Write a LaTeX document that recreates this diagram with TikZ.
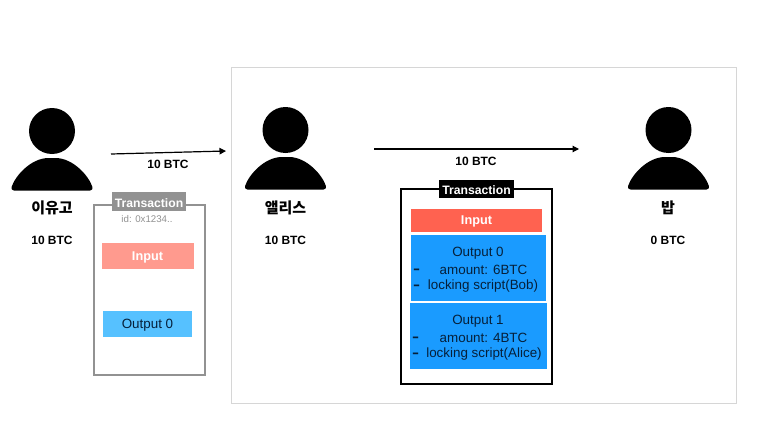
\documentclass[tikz,border=0pt]{standalone}
\usepackage{fontspec}
\setmainfont{Liberation Sans}
\newfontfamily\krfont{Noto Sans CJK KR}
\definecolor{framegray}{HTML}{D6D6D6}
\definecolor{txgray}{HTML}{929292}
\definecolor{inlight}{HTML}{FF9A8E}
\definecolor{outlight}{HTML}{56C1FF}
\definecolor{instrong}{HTML}{FF6250}
\definecolor{outstrong}{HTML}{1A9BFF}
\definecolor{darktext}{HTML}{06203A}
\usetikzlibrary{arrows.meta}
\tikzset{
  x=1pt,y=-1pt,
  lbl/.style={inner sep=0pt,font=\bfseries\fontsize{12}{14}\selectfont},
  namelbl/.style={inner sep=0pt,font=\krfont\bfseries\fontsize{15}{17}\selectfont},
  boxtxt/.style={inner sep=0pt,yshift=-1pt,text=darktext,font=\fontsize{13.4}{15}\selectfont},
  dashtxt/.style={inner sep=0pt,yshift=-2pt,text=darktext,font=\bfseries\fontsize{14}{15}\selectfont},
  titletxt/.style={inner sep=0pt,yshift=-0.8pt,text=white,font=\bfseries\fontsize{12.2}{14}\selectfont},
  btntxt/.style={inner sep=0pt,yshift=-1pt,text=white,font=\bfseries\fontsize{12.7}{14}\selectfont},
  flow/.style={-{Triangle[length=6.5pt,width=6.5pt]},line width=1.2pt,black},
}
\newcommand{\personicon}[2]{%
  \fill[black] (#1,#2) circle (23);
  \fill[black,rounded corners=3.5pt] (#1-41.5,#2+59.5)
     .. controls (#1-37,#2+45) and (#1-21,#2+27) .. (#1,#2+27)
     .. controls (#1+21,#2+27) and (#1+37,#2+45) .. (#1+41.5,#2+59.5) -- cycle;
}
\newcommand{\widedash}{\scalebox{1.5}[1]{-}}
\begin{document}
\begin{tikzpicture}
\useasboundingbox (0,0) rectangle (765,436);
\fill[white] (0,0) rectangle (765,436);
\draw[framegray,line width=0.9pt] (231,67) rectangle (736,403);

\personicon{52}{131}
\personicon{285.5}{130}
\personicon{668.5}{130}

\node[namelbl] (yname) at (52,208) {이유고};
\node[lbl] (ybtc) at (52,240) {10 BTC};
\node[namelbl] (aname) at (285.5,208) {앨리스};
\node[lbl] (abtc) at (285.5,240) {10 BTC};
\node[namelbl] (bname) at (668,208) {밥};
\node[lbl] (bbtc) at (668,240) {0 BTC};

\coordinate (a1s) at (111,154);
\coordinate (a1e) at (226,151);
\draw[flow] (a1s) -- (a1e);
\node[lbl] (a1l) at (168,164) {10 BTC};
\coordinate (a2s) at (374,149);
\coordinate (a2e) at (579,149);
\draw[flow] (a2s) -- (a2e);
\node[lbl] (a2l) at (476,161) {10 BTC};

% left transaction
\draw[txgray,line width=1.5pt] (94,205) rectangle (205,375);
\fill[txgray] (112,192) rectangle (186,211);
\node[titletxt] (t1) at (149,202) {Transaction};
\node[inner sep=0pt,text=txgray,font=\fontsize{9.7}{11}\selectfont] (tid) at (147,219) {id: 0x1234..};
\fill[inlight] (102,243) rectangle (194,269);
\node[btntxt] (i1) at (147.5,256.5) {Input};
\fill[outlight] (103,311) rectangle (192,337);
\node[boxtxt] (o1) at (147.5,324.5) {Output 0};

% right transaction
\draw[black,line width=1.5pt] (401,189) rectangle (552,384);
\fill[black] (439,180) rectangle (514,198);
\node[titletxt] (t2) at (476.5,189.5) {Transaction};
\fill[instrong] (411,209) rectangle (542,232);
\node[btntxt] (i2) at (476.5,220.5) {Input};
\fill[outstrong] (411,235) rectangle (546,301);
\node[boxtxt] (o20) at (478,252.5) {Output 0};
\node[dashtxt] (o20d1) at (416.5,269) {\widedash};
\node[boxtxt] (o20a) at (483.5,269) {amount: 6BTC};
\node[dashtxt] (o20d2) at (416.5,285) {\widedash};
\node[boxtxt] (o20l) at (483,285) {locking script(Bob)};
\fill[outstrong] (410,303) rectangle (547,369);
\node[boxtxt] (o21) at (478,320.5) {Output 1};
\node[dashtxt] (o21d1) at (415.5,337) {\widedash};
\node[boxtxt] (o21a) at (483.5,337) {amount: 4BTC};
\node[dashtxt] (o21d2) at (415.5,353) {\widedash};
\node[boxtxt] (o21l) at (484,353) {locking script(Alice)};
\end{tikzpicture}
\end{document}
